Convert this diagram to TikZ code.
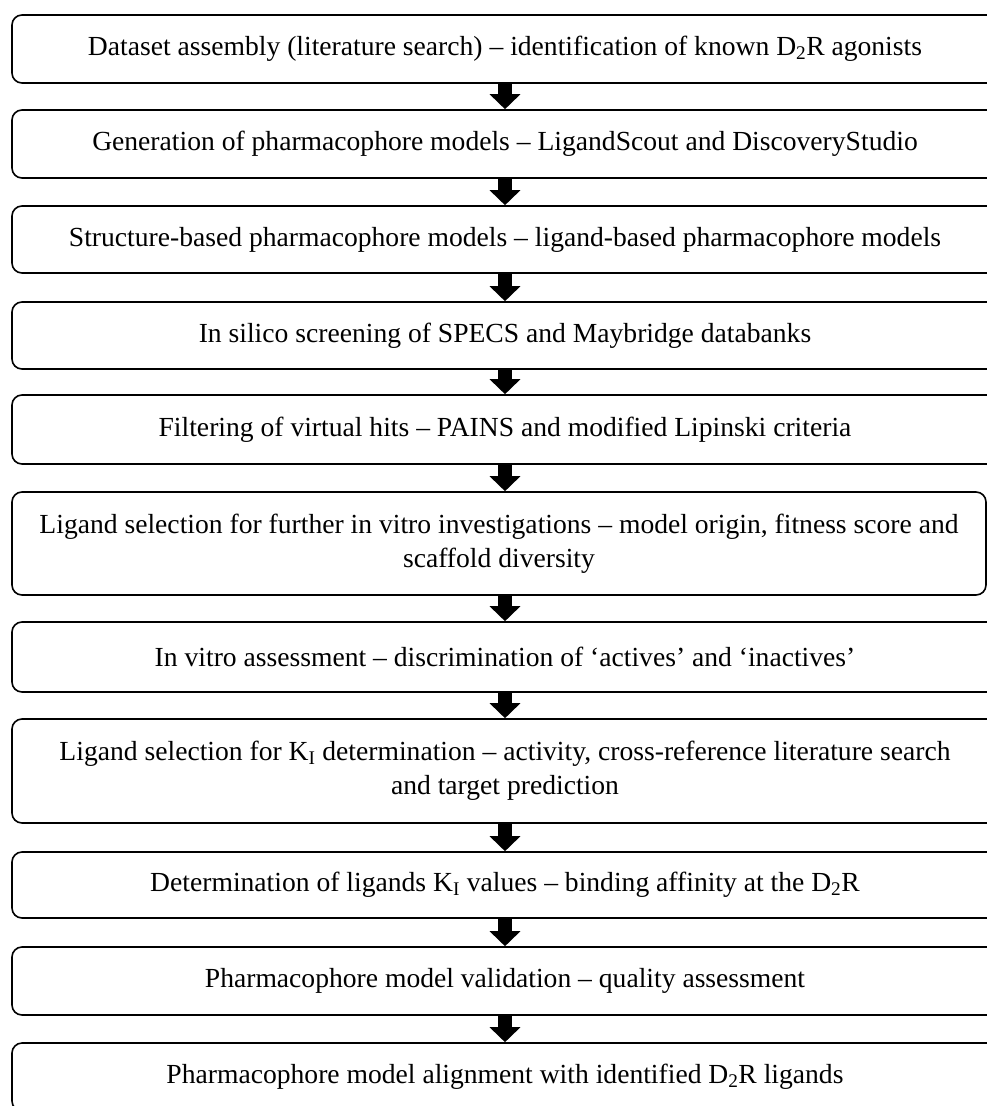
\documentclass[tikz,border=0pt]{standalone}
\usepackage{fontspec}
\setmainfont{Liberation Serif}
\usetikzlibrary{arrows.meta}
\tikzset{
  stagebox/.style={draw=black, line width=1.6pt, rounded corners=10pt, inner sep=0pt,
    align=center, font=\fontsize{27.6}{34}\selectfont, text=black},
  flowarrow/.style={line width=14pt, -{Triangle[width=30pt,length=15pt]}}
}
\begin{document}
\begin{tikzpicture}[x=1pt,y=-1pt]
\useasboundingbox (0,0) rectangle (987,1106);
\fill[white] (0,0) rectangle (987,1106);
\node[stagebox, minimum width=986pt, minimum height=68pt] (b1) at (505,49)
  {Dataset assembly (literature search) – identification of known D\textsubscript{2}R agonists};
\node[stagebox, minimum width=986pt, minimum height=68pt] (b2) at (505,144)
  {Generation of pharmacophore models – LigandScout and DiscoveryStudio};
\node[stagebox, minimum width=986pt, minimum height=67pt] (b3) at (505,239.5)
  {Structure-based pharmacophore models – ligand-based pharmacophore models};
\node[stagebox, minimum width=986pt, minimum height=67pt] (b4) at (505,335.5)
  {In silico screening of SPECS and Maybridge databanks};
\node[stagebox, minimum width=986pt, minimum height=69pt] (b5) at (505,429.5)
  {Filtering of virtual hits – PAINS and modified Lipinski criteria};
\node[stagebox, minimum width=974pt, minimum height=103pt] (b6) at (499,543.5)
  {Ligand selection for further in vitro investigations – model origin, fitness score and\\scaffold diversity};
\node[stagebox, minimum width=986pt, minimum height=70pt] (b7) at (505,657)
  {In vitro assessment – discrimination of ‘actives’ and ‘inactives’};
\node[stagebox, minimum width=986pt, minimum height=104pt] (b8) at (505,771)
  {Ligand selection for K\textsubscript{I} determination – activity, cross-reference literature search\\and target prediction};
\node[stagebox, minimum width=986pt, minimum height=66pt] (b9) at (505,885)
  {Determination of ligands K\textsubscript{I} values – binding affinity at the D\textsubscript{2}R};
\node[stagebox, minimum width=986pt, minimum height=68pt] (b10) at (505,981)
  {Pharmacophore model validation – quality assessment};
\node[stagebox, minimum width=986pt, minimum height=68pt] (b11) at (505,1077)
  {Pharmacophore model alignment with identified D\textsubscript{2}R ligands};
\draw[flowarrow] (b1.south) -- (b2.north);
\draw[flowarrow] (b2.south) -- (b3.north);
\draw[flowarrow] (b3.south) -- (b4.north);
\draw[flowarrow] (b4.south) -- (b5.north);
\draw[flowarrow] (b5.south) -- (b5.south |- b6.north);
\draw[flowarrow] (b6.south -| b7.north) -- (b7.north);
\draw[flowarrow] (b7.south) -- (b8.north);
\draw[flowarrow] (b8.south) -- (b9.north);
\draw[flowarrow] (b9.south) -- (b10.north);
\draw[flowarrow] (b10.south) -- (b11.north);
\end{tikzpicture}
\end{document}
